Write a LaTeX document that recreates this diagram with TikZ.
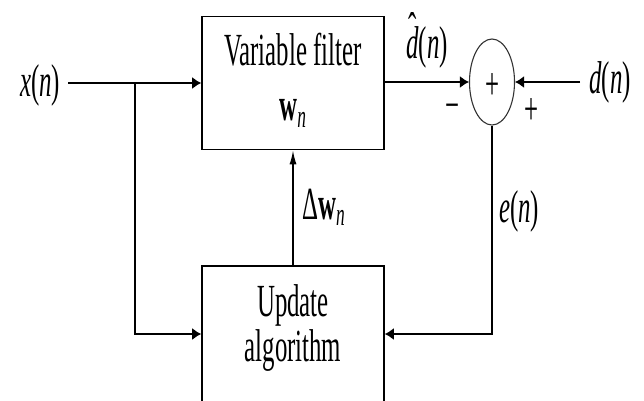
\documentclass[tikz,border=0pt]{standalone}
\usepackage{fontspec}
\setmainfont{Liberation Serif}
\usetikzlibrary{shapes.geometric, arrows.meta, positioning}

\newcommand{\hatd}{\ooalign{\textit{d}\cr\hidewidth\raisebox{0.3em}{ˆ}\hidewidth\cr}}

\begin{document}
\begin{tikzpicture}[
        x=1pt, y=-1pt,
        box/.style    ={draw=black, line width=1.6pt, minimum width=182pt, inner sep=0pt},
        sum/.style    ={ellipse, draw=black!80, line width=1.1pt, minimum width=45pt,
                        minimum height=86pt, inner sep=0pt},
        lbl/.style    ={font=\fontsize{46}{45}\selectfont, xscale=0.54, inner sep=0pt},
        wire/.style   ={line width=1.5pt},
        arrow/.style  ={wire, -{Latex[length=9pt, width=12pt]}},
        uparrow/.style={wire, -{Latex[length=14pt, width=7pt]}}
    ]
    \useasboundingbox (0,0) rectangle (644,400);
    \clip (0,0) rectangle (644,400);

    % --- nodes ---
    \node[box, minimum height=133pt] (filter) at (293,83) {};
    \node[box, minimum height=136pt] (update) at (293,334) {};
    \node[sum] (sum) at (492,82) {};

    \node[lbl, anchor=north, align=center] (filtertxt) at (293,33)
        {Variable filter\\[10pt]\textbf{w}\textsubscript{\textit{n}}};
    \node[lbl, anchor=north, align=center] (updatetxt) at (293,284) {Update\\algorithm};

    \node[lbl, anchor=base] (xlbl) at (40,96) {\textit{x}(\textit{n})};
    \node[lbl, anchor=base] (dhat) at (427,58) {\hatd(\textit{n})};
    \node[lbl, anchor=base] (dlbl) at (610,93) {\textit{d}(\textit{n})};
    \node[lbl, anchor=base west] (dw) at (302,219) {Δ\textbf{w}\textsubscript{\textit{n}}};
    \node[lbl, anchor=base west] (elbl) at (499,222) {\textit{e}(\textit{n})};

    \node[lbl] (plus) at (492,87) {+};
    \node[lbl] (minus) at (452,112) {−};
    \node[lbl] (pplus) at (531,112) {+};

    \coordinate (xin)   at (68,83);
    \coordinate (split) at (135,83);
    \coordinate (din)   at (580,82);

    % --- arrows ---
    \draw[arrow] (xin) -- (filter.west);
    \draw[arrow] (split) |- (update.west);
    \draw[arrow] (filter.east |- sum.west) -- (sum.west);
    \draw[arrow] (din) -- (sum.east);
    \draw[arrow] (sum.south) |- (update.east);
    \draw[uparrow] (update.north) -- (filter.south);

\end{tikzpicture}
\end{document}
